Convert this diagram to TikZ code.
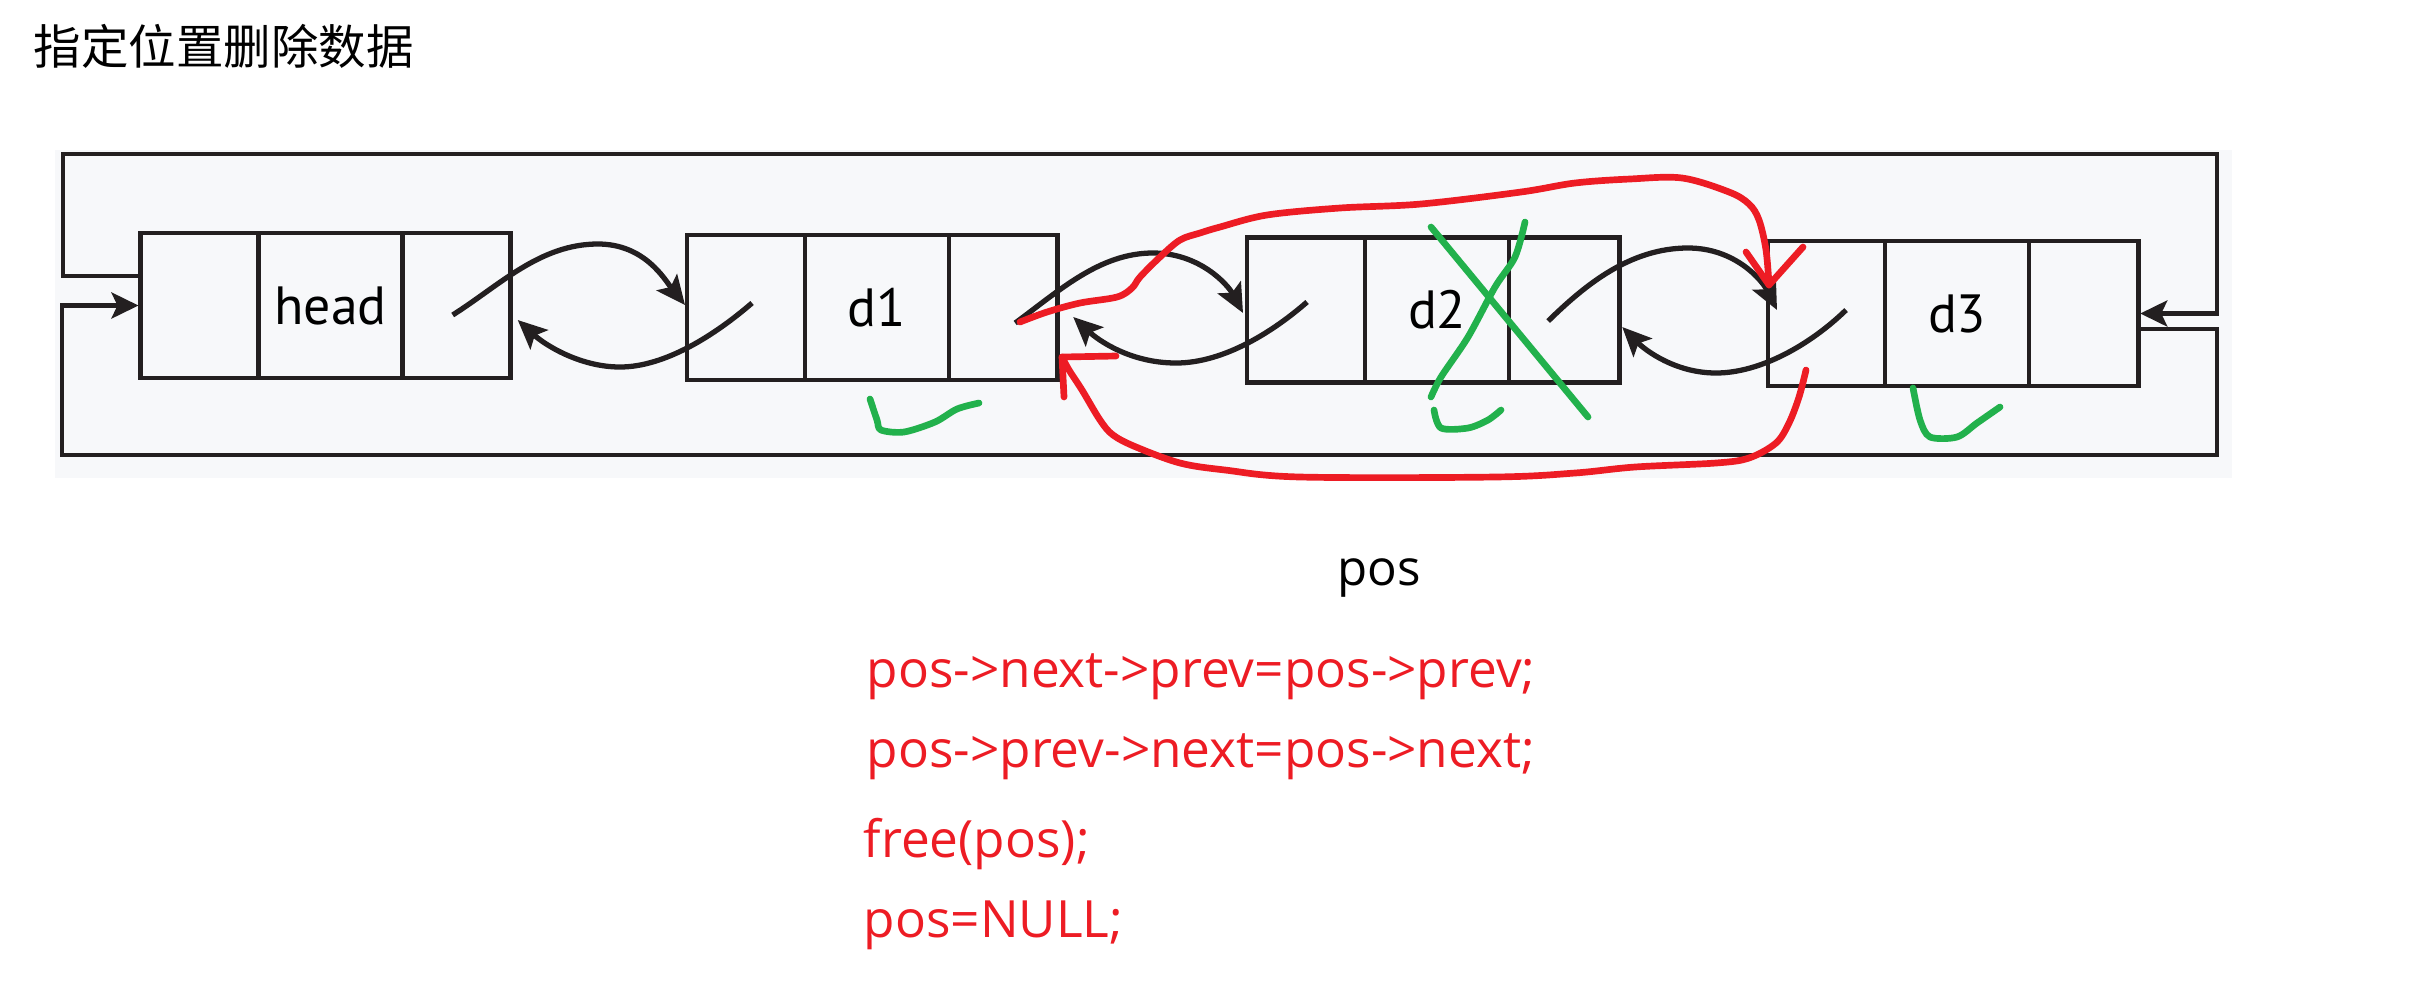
\documentclass[tikz,border=0pt]{standalone}
\usepackage{fontspec}
\setmainfont{Open Sans}
\newfontfamily\cjk{Noto Sans CJK SC}
\newfontfamily\boxfont{PT Sans}
\usetikzlibrary{arrows.meta,calc}
\definecolor{ink}{HTML}{231F20}
\definecolor{penred}{HTML}{ED1C24}
\definecolor{pengreen}{HTML}{22B14C}
\definecolor{panel}{HTML}{F7F8FA}
\tikzset{
  wire/.style={draw=ink, line width=1.3pt},
  curve/.style={draw=ink, line width=1.5pt},
  cell/.style={draw=ink, line width=1.3pt, minimum height=1.45cm, inner sep=0pt, outer sep=0pt, anchor=west,
    font=\boxfont\fontsize{15.3pt}{18pt}\selectfont},
  tiparrow/.style={-{Stealth[length=0.27cm,width=0.26cm,inset=0.06cm]}},
  ctip/.style={-{Stealth[length=0.29cm,width=0.26cm,inset=0.06cm]}},
  redpen/.style={draw=penred, line width=1.9pt, line cap=round, line join=round},
  greenpen/.style={draw=pengreen, line width=1.9pt, line cap=round, line join=round},
  code/.style={text=penred, anchor=base west, inner sep=0pt, font=\fontsize{14.6pt}{17pt}\selectfont},
}
\begin{document}
\begin{tikzpicture}[x=0.01cm,y=-0.01cm]
\useasboundingbox (0,0) rectangle (2425,987);
\fill[panel] (55,150) rectangle (2232,478);

% title
\node[anchor=west, inner sep=0pt, font=\cjk\fontsize{13.5pt}{16pt}\selectfont] (title) at (33,46) {指定位置删除数据};

% head
\node[cell, minimum width=1.18cm] (hL) at (140.5,305.5) {};
\node[cell, minimum width=1.44cm] (hM) at (hL.east) {head};
\node[cell, minimum width=1.08cm] (hR) at (hM.east) {};
% d1
\node[cell, minimum width=1.18cm] (aL) at (687,307.5) {};
\node[cell, minimum width=1.44cm] (aM) at (aL.east) {d1};
\node[cell, minimum width=1.08cm] (aR) at (aM.east) {};
% d2
\node[cell, minimum width=1.18cm] (bL) at (1247,310) {};
\node[cell, minimum width=1.44cm] (bM) at (bL.east) {d2};
\node[cell, minimum width=1.10cm] (bR) at (bM.east) {};
% d3
\node[cell, minimum width=1.17cm] (cL) at (1768,313.5) {};
\node[cell, minimum width=1.44cm] (cM) at (cL.east) {d3};
\node[cell, minimum width=1.09cm] (cR) at (cM.east) {};

% outer loop
\draw[wire,tiparrow] ($(hL.west)+(0,-29.5)$) -| (63,154) -| (2217,313.5) -- ($(cR.east)+(2,0)$);
\draw[wire,tiparrow] ($(cR.east)+(0,15.5)$) -| (2217,455) -| (62,305.5) -- ($(hL.west)+(-2,0)$);

% start points inside cells
\coordinate (s1) at ($(hR.center)+(-4,9.5)$);
\coordinate (p1) at ($(aL.center)+(6,-4.5)$);
\coordinate (s2) at ($(aR.center)+(12,15.5)$);
\coordinate (p2) at ($(bL.center)+(1,-8)$);
\coordinate (s3) at ($(bR.center)+(-16,11)$);
\coordinate (p3) at ($(cL.center)+(19.5,-3.5)$);

% head <-> d1
\draw[curve,ctip] (s1) .. controls (500,285) and (540,244) .. (598,244)
  .. controls (645,244) and (665,280) .. ($(aL.west)+(-2,-2.5)$);
\draw[curve,ctip] (p1) .. controls (715,335) and (665,367) .. (620,367)
  .. controls (580,367) and (545,345) .. ($(hR.east)+(7,14.5)$);
% d1 <-> d2
\draw[curve,ctip] (s2) .. controls (1060,290) and (1100,253) .. (1153,253)
  .. controls (1200,253) and (1228,285) .. ($(bL.west)+(-4,3)$);
\draw[curve,ctip] (p2) .. controls (1275,330) and (1225,363) .. (1176,363)
  .. controls (1130,363) and (1098,340) .. ($(aR.east)+(16,9.5)$);
% d2 <-> d3
\draw[curve,ctip] (s3) .. controls (1585,285) and (1630,248) .. (1688,248)
  .. controls (1735,248) and (1762,280) .. ($(cL.west)+(9,-3.5)$);
\draw[curve,ctip] (p3) .. controls (1810,345) and (1760,373) .. (1716,373)
  .. controls (1675,373) and (1645,350) .. ($(bR.east)+(3,17)$);

% red annotations
\draw[redpen] plot[smooth, tension=0.55] coordinates {(1020,322) (1047,312) (1080,303) (1117,297) (1132,288) (1140,277) (1160,257) (1180,240) (1200,233) (1220,227) (1267,215) (1340,208) (1421,204) (1521,192) (1575,183) (1630,179) (1682,178) (1729,192) (1749,204) (1759,220) (1766,250) (1769,285)};
\draw[redpen] (1746,252) -- (1769,285) -- (1803,247);
\draw[redpen] plot[smooth, tension=0.55] coordinates {(1806,370) (1799,397) (1789,423) (1776,443) (1749,458) (1716,463) (1635,467) (1575,473) (1495,477) (1300,477) (1225,470) (1180,463) (1136,447) (1113,435) (1100,420) (1082,390) (1069,370) (1062,357)};
\draw[redpen] (1116,356) -- (1062,357) -- (1064,397);

% green annotations
\draw[greenpen] plot[smooth, tension=0.5] coordinates {(870,399) (877,420) (881,430) (904,432) (935,422) (957,409) (979,403)};
\draw[greenpen] (1431,227) -- (1588,417);
\draw[greenpen] plot[smooth, tension=0.5] coordinates {(1525,222) (1515,257) (1495,287) (1468,337) (1441,377) (1431,397)};
\draw[greenpen] plot[smooth, tension=0.5] coordinates {(1434,410) (1441,428) (1468,428) (1488,420) (1501,410)};
\draw[greenpen] plot[smooth, tension=0.5] coordinates {(1913,388) (1920,420) (1930,437) (1957,437) (1977,423) (2000,407)};

% texts
\node[anchor=base west, inner sep=0pt, font=\fontsize{14pt}{17pt}\selectfont] (pos) at (1337,585) {pos};
\node[code] (c1) at (866,687) {pos->next->prev=pos->prev;};
\node[code] (c2) at (866,767) {pos->prev->next=pos->next;};
\node[code] (c3) at (863,857) {free(pos);};
\node[code] (c4) at (863,937) {pos=NULL;};
\end{tikzpicture}
\end{document}
